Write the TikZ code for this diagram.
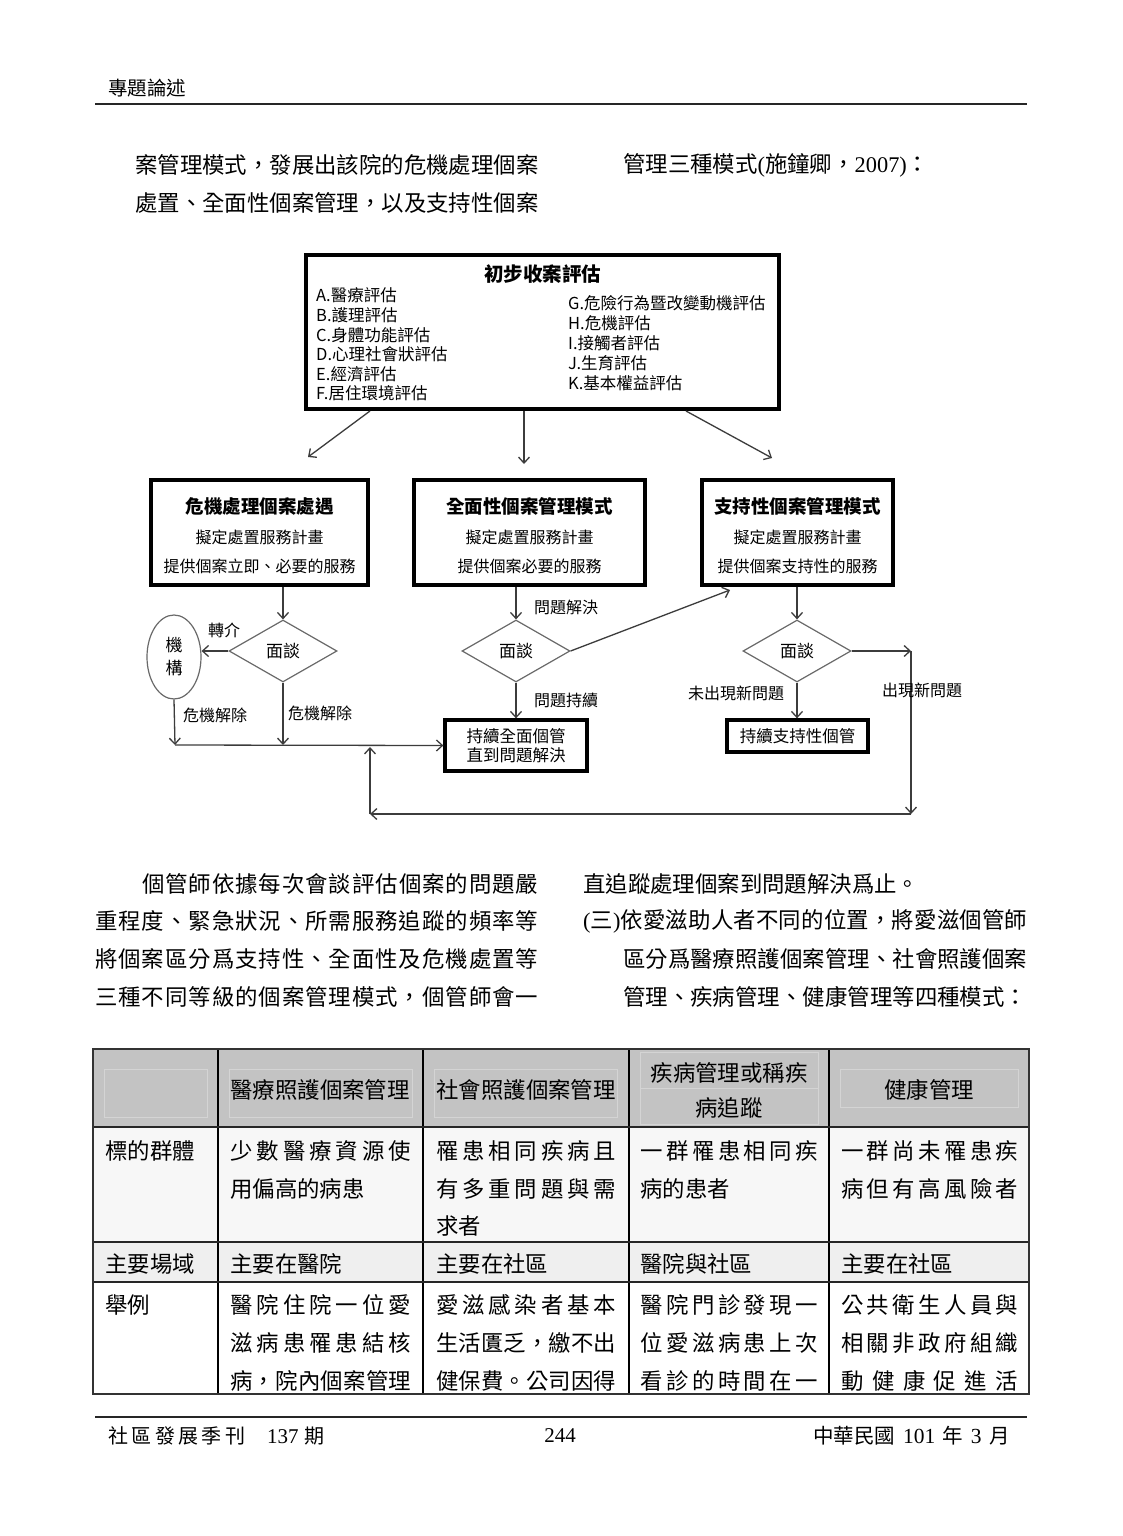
\documentclass[tikz,border=0pt]{standalone}
\usepackage{fontspec}
\setmainfont{Liberation Serif}
\newfontfamily\cjk{Noto Sans CJK TC}
\newfontfamily\lat{Liberation Serif}
\usetikzlibrary{shapes.geometric,arrows.meta}
\definecolor{lineg}{RGB}{60,60,60}
\definecolor{diag}{RGB}{105,105,105}
\definecolor{hdr}{RGB}{195,195,195}
\definecolor{rowa}{RGB}{247,247,247}
\definecolor{rowb}{RGB}{239,239,239}
\definecolor{faint}{RGB}{212,212,212}
\newcommand\bodyf{\cjk\fontsize{22.4}{27}\selectfont}
\newcommand\latb{\lat\fontsize{22.4}{27}\selectfont}
\newcommand\dgf{\cjk\fontsize{16.5}{19.6}\selectfont}
\ExplSyntaxOn
\NewDocumentCommand \spread { m m }
 {
  \hbox_to_wd:nn { #1 }
   {
    \bool_set_true:N \l_tmpa_bool
    \tl_map_inline:nn { #2 }
     {
      \bool_if:NTF \l_tmpa_bool { \bool_set_false:N \l_tmpa_bool } { \hfil }
      ##1
     }
   }
 }
\ExplSyntaxOff
\tikzset{
  tl/.style={anchor=west, inner sep=0pt, font=\bodyf},
  tc/.style={anchor=center, inner sep=0pt, font=\bodyf},
  bx/.style={draw=black, line width=3.3pt, inner sep=0pt},
  btitle/.style={inner sep=0pt, font=\cjk\bfseries\fontsize{18.5}{22}\selectfont},
  bsub/.style={inner sep=0pt, font=\cjk\fontsize{16}{19}\selectfont},
  lst/.style={anchor=west, inner sep=0pt, font=\dgf},
  lab/.style={inner sep=0pt, font=\cjk\fontsize{16}{19}\selectfont},
  dia/.style={diamond, draw=diag, line width=1.2pt, minimum width=108pt, minimum height=62pt, inner sep=0pt, font=\cjk\fontsize{17}{20}\selectfont},
  conn/.style={draw=lineg, line width=1.3pt, -{Straight Barb[length=6pt,width=11pt]}},
}
\begin{document}
\begin{tikzpicture}[x=1pt,y=-1pt]
\useasboundingbox (0,0) rectangle (1123,1536);
\fill[white] (0,0) rectangle (1123,1536);

% header / footer
\node[anchor=west, inner sep=0pt, font=\cjk\fontsize{19.5}{22}\selectfont] (hd) at (108,88) {專題論述};
\draw[line width=1.8pt, draw=black!85] (95,104) -- (1027,104);
\draw[line width=1.8pt, draw=black!85] (95,1417) -- (1027,1417);
\node[anchor=west, inner sep=0pt, font=\cjk\fontsize{20}{24}\selectfont] (ft1) at (108,1436) {\spread{137pt}{社區發展季刊}\hspace{22pt}{\lat\fontsize{21}{24}\selectfont 137}\hspace{6pt}期};
\node[inner sep=0pt, font=\lat\fontsize{21}{24}\selectfont] (ft2) at (560,1436) {244};
\node[anchor=west, inner sep=0pt, font=\cjk\fontsize{20.5}{24}\selectfont] (ft3) at (813,1436) {\spread{82pt}{中華民國}\hspace{8pt}{\lat\fontsize{21.5}{24}\selectfont 101}\hspace{7pt}年\hspace{8pt}{\lat\fontsize{21.5}{24}\selectfont 3}\hspace{8pt}月};

% top paragraph
\node[tl] (p1) at (135,165) {\spread{403pt}{案管理模式，發展出該院的危機處理個案}};
\node[tl] (p2) at (135,203) {\spread{403pt}{處置、全面性個案管理，以及支持性個案}};
\node[tl] (p3) at (623,165) {管理三種模式{\latb(}施鐘卿，{\latb 2007)}：};

% ---------------- flowchart ----------------
\node[bx, minimum width=473pt, minimum height=154pt] (top) at (542.5,332) {};
\node[inner sep=0pt, font=\cjk\bfseries\fontsize{19.5}{22}\selectfont] (topt) at (542.5,274) {初步收案評估};
\node[lst] (la1) at (316,295) {A.醫療評估};
\node[lst] (la2) at (316,315) {B.護理評估};
\node[lst] (la3) at (316,335) {C.身體功能評估};
\node[lst] (la4) at (316,354) {D.心理社會狀評估};
\node[lst] (la5) at (316,374) {E.經濟評估};
\node[lst] (la6) at (316,393) {F.居住環境評估};
\node[lst] (lb1) at (568,303) {G.危險行為暨改變動機評估};
\node[lst] (lb2) at (568,323) {H.危機評估};
\node[lst] (lb3) at (568,343) {I.接觸者評估};
\node[lst] (lb4) at (568,363) {J.生育評估};
\node[lst] (lb5) at (568,383) {K.基本權益評估};

\coordinate (a1s) at (370,411); \coordinate (a1e) at (308,457);
\coordinate (a2s) at (524,411); \coordinate (a2e) at (524,464);
\coordinate (a3s) at (686,411); \coordinate (a3e) at (772,458);
\draw[conn] (a1s) -- (a1e);
\draw[conn] (a2s) -- (a2e);
\draw[conn] (a3s) -- (a3e);

\node[bx, minimum width=217pt, minimum height=105pt] (b1) at (259.5,532.5) {};
\node[bx, minimum width=231pt, minimum height=105pt] (b2) at (529.5,532.5) {};
\node[bx, minimum width=191pt, minimum height=105pt] (b3) at (797.5,532.5) {};
\node[btitle] (b1t) at (259.5,506) {危機處理個案處遇};
\node[bsub] (b1s1) at (259.5,537) {擬定處置服務計畫};
\node[bsub] (b1s2) at (259.5,566) {提供個案立即、必要的服務};
\node[btitle] (b2t) at (529.5,506) {全面性個案管理模式};
\node[bsub] (b2s1) at (529.5,537) {擬定處置服務計畫};
\node[bsub] (b2s2) at (529.5,566) {提供個案必要的服務};
\node[btitle] (b3t) at (797.5,506) {支持性個案管理模式};
\node[bsub] (b3s1) at (797.5,537) {擬定處置服務計畫};
\node[bsub] (b3s2) at (797.5,566) {提供個案支持性的服務};

\node[dia] (d1) at (283,651) {面談};
\node[dia] (d2) at (516,651) {面談};
\node[dia] (d3) at (797,651) {面談};
\node[ellipse, draw=diag, line width=1.2pt, minimum width=54pt, minimum height=84pt, inner sep=0pt, align=center, font=\cjk\fontsize{17}{23}\selectfont] (jg) at (174,657) {機\\構};

\node[bx, minimum width=142pt, minimum height=51pt, align=center, font=\cjk\fontsize{16.5}{18.5}\selectfont] (b4) at (516,745.5) {持續全面個管\\直到問題解決};
\node[bx, minimum width=141pt, minimum height=32pt, font=\cjk\fontsize{16.5}{18.5}\selectfont] (b5) at (797.5,736) {持續支持性個管};

\draw[conn] (d1.north |- b1.south) -- (d1.north);
\draw[conn] (d2.north |- b2.south) -- (d2.north);
\draw[conn] (d3.north |- b3.south) -- (d3.north);
\draw[conn] (d1.west) -- (d1.west -| jg.east);
\coordinate (jc) at (175,745);
\coordinate (dc) at (283,745);
\draw[conn] (jg.south) -- (jc);
\draw[conn] (d1.south) -- (dc);
\draw[conn] (jc) -- (b4.west);
\draw[conn] (d2.south) -- (b4.north);
\draw[conn] (d3.south) -- (d3.south |- b5.north);
\coordinate (s1) at (730,590);
\draw[conn] (d2.east) -- (s1);
\coordinate (r1) at (911,651);
\coordinate (r2) at (911,814);
\coordinate (r3) at (370,814);
\coordinate (r4) at (370,747);
\draw[conn] (d3.east) -- (r1);
\draw[conn] (r1) -- (r2);
\draw[conn] (r2) -- (r3);
\draw[conn] (r3) -- (r4);

\node[lab] (l1) at (224,630) {轉介};
\node[lab] (l2) at (215,715) {危機解除};
\node[lab] (l3) at (320,713) {危機解除};
\node[lab] (l4) at (566,607) {問題解決};
\node[lab] (l5) at (566,700) {問題持續};
\node[lab] (l6) at (736,693) {未出現新問題};
\node[lab] (l7) at (922,690) {出現新問題};

% bottom paragraphs
\node[tl] (q1) at (142,884) {\spread{396pt}{個管師依據每次會談評估個案的問題嚴}};
\node[tl] (q2) at (95,921) {\spread{443pt}{重程度、緊急狀況、所需服務追蹤的頻率等}};
\node[tl] (q3) at (95,959) {\spread{443pt}{將個案區分爲支持性、全面性及危機處置等}};
\node[tl] (q4) at (95,997) {\spread{443pt}{三種不同等級的個案管理模式，個管師會一}};
\node[tl] (q5) at (583,884) {直追蹤處理個案到問題解決爲止。};
\node[tl] (q6) at (583,921) {\spread{444pt}{{{\latb(}三{\latb)}}依愛滋助人者不同的位置，將愛滋個管師}};
\node[tl] (q7) at (623,959) {\spread{404pt}{區分爲醫療照護個案管理、社會照護個案}};
\node[tl] (q8) at (623,997) {\spread{404pt}{管理、疾病管理、健康管理等四種模式：}};

% ---------------- table ----------------
\fill[hdr] (93,1049) rectangle (1029,1127);
\fill[rowa] (93,1127) rectangle (1029,1242);
\fill[rowb] (93,1242) rectangle (1029,1282);
\draw[faint, line width=0.9pt] (104,1069) rectangle (207,1117);
\draw[faint, line width=0.9pt] (229,1069) rectangle (412,1117);
\draw[faint, line width=0.9pt] (434,1069) rectangle (617,1117);
\draw[faint, line width=0.9pt] (640,1052) rectangle (818,1088);
\draw[faint, line width=0.9pt] (640,1088) rectangle (818,1124);
\draw[faint, line width=0.9pt] (840,1069) rectangle (1018,1107);
\foreach \xx in {218,423,629,829} \draw[black, line width=2pt] (\xx,1049) -- (\xx,1394);
\foreach \yy in {1127,1242,1282} \draw[black!85, line width=2pt] (93,\yy) -- (1029,\yy);
\draw[black!80, line width=2.6pt] (93,1049) rectangle (1029,1394);

\node[tc] (h2) at (320,1090) {醫療照護個案管理};
\node[tc] (h3) at (526,1090) {社會照護個案管理};
\node[tc] (h4a) at (729,1073) {疾病管理或稱疾};
\node[tc] (h4b) at (729,1108) {病追蹤};
\node[tc] (h5) at (929,1090) {健康管理};

\node[tl] (c11) at (105,1151) {標的群體};
\node[tl] (c12a) at (230,1151) {\spread{181pt}{少數醫療資源使}};
\node[tl] (c12b) at (230,1189) {用偏高的病患};
\node[tl] (c13a) at (436,1151) {\spread{180pt}{罹患相同疾病且}};
\node[tl] (c13b) at (436,1189) {\spread{180pt}{有多重問題與需}};
\node[tl] (c13c) at (436,1226) {求者};
\node[tl] (c14a) at (640,1151) {\spread{178pt}{一群罹患相同疾}};
\node[tl] (c14b) at (640,1189) {病的患者};
\node[tl] (c15a) at (841,1151) {\spread{177pt}{一群尚未罹患疾}};
\node[tl] (c15b) at (841,1189) {\spread{177pt}{病但有高風險者}};

\node[tl] (c21) at (105,1264) {主要場域};
\node[tl] (c22) at (230,1264) {主要在醫院};
\node[tl] (c23) at (436,1264) {主要在社區};
\node[tl] (c24) at (640,1264) {醫院與社區};
\node[tl] (c25) at (841,1264) {主要在社區};

\node[tl] (c31) at (105,1305) {舉例};
\node[tl] (c32a) at (230,1305) {\spread{181pt}{醫院住院一位愛}};
\node[tl] (c32b) at (230,1343) {\spread{181pt}{滋病患罹患結核}};
\node[tl] (c32c) at (230,1381) {\spread{181pt}{病，院內個案管理}};
\node[tl] (c33a) at (436,1305) {\spread{180pt}{愛滋感染者基本}};
\node[tl] (c33b) at (436,1343) {\spread{180pt}{生活匱乏，繳不出}};
\node[tl] (c33c) at (436,1381) {\spread{180pt}{健保費。公司因得}};
\node[tl] (c34a) at (640,1305) {\spread{178pt}{醫院門診發現一}};
\node[tl] (c34b) at (640,1343) {\spread{178pt}{位愛滋病患上次}};
\node[tl] (c34c) at (640,1381) {\spread{178pt}{看診的時間在一}};
\node[tl] (c35a) at (841,1305) {\spread{177pt}{公共衛生人員與}};
\node[tl] (c35b) at (841,1343) {\spread{177pt}{相關非政府組織}};
\node[tl] (c35c) at (841,1381) {\spread{177pt}{動健康促進活}};
\end{tikzpicture}
\end{document}
